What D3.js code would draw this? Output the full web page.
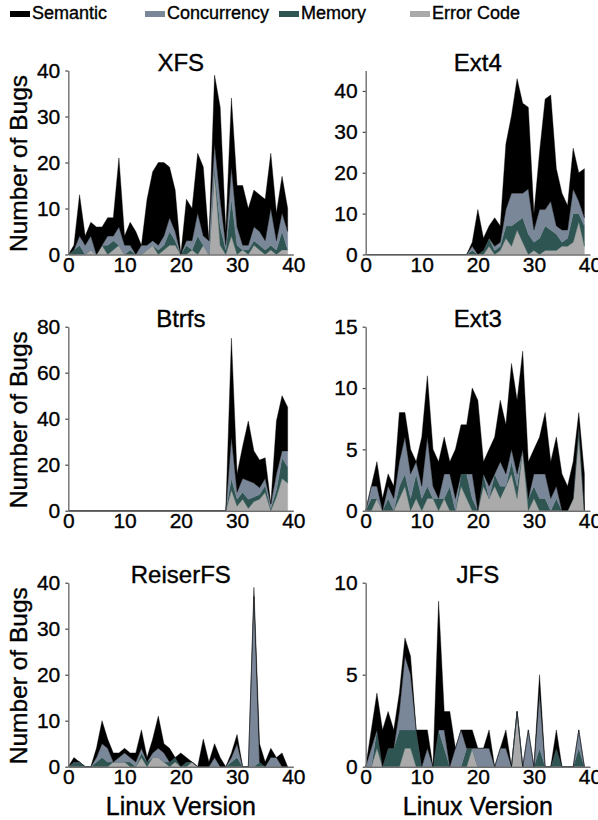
<!DOCTYPE html>
<html><head><meta charset="utf-8">
<script src="https://cdn.jsdelivr.net/npm/d3@7"></script>
<style>
html,body{margin:0;padding:0;background:#fff;}
svg{display:block;font-family:"Liberation Sans",Arial,Helvetica,sans-serif;}
</style></head>
<body>
<svg id="chart" width="598" height="820"></svg>
<script>
// ---- data ----
const versions = d3.range(0, 40);
const seriesNames = ["Semantic", "Concurrency", "Memory", "Error Code"];
const stackOrder = ["Error Code", "Memory", "Concurrency", "Semantic"];
const seriesColors = ["#000000", "#7a8799", "#2e5552", "#aaaaaa"];

const xfsError       = [0,0,0,0,1,0,2,0,1,2,0,0,0,0,1,2,0,1,2,2,0,0,1,0,2,0,18,2,0,4,0,1,0,2,1,0,1,0,1,1];
const xfsMemory      = [0,1,2,0,0,0,0,2,2,0,0,1,0,0,0,0,1,1,3,1,0,2,0,4,0,0,1,4,1,8,2,0,1,1,1,1,1,1,4,0];
const xfsConcurrency = [0,0,2,2,3,0,0,2,1,4,2,1,0,2,1,1,1,2,3,2,0,1,2,5,2,3,5,6,1,7,4,1,1,3,3,2,8,2,4,4];
const xfsSemantic    = [0,1,9,2,3,6,4,4,4,15,2,5,5,0,10,15,18,16,11,9,0,9,7,13,15,0,15,20,3,15,9,13,8,8,8,9,12,6,8,5];

const ext4Error       = [0,0,0,0,0,0,0,0,0,0,0,0,0,0,0,0,0,0,0,0,0,0,2,0,1,4,2,6,3,0,1,0,1,1,1,2,2,3,8,2];
const ext4Memory      = [0,0,0,0,0,0,0,0,0,0,0,0,0,0,0,0,0,0,0,1,0,1,2,1,1,3,5,2,6,5,2,4,6,5,4,1,2,7,2,5];
const ext4Concurrency = [0,0,0,0,0,0,0,0,0,0,0,0,0,0,0,0,0,0,0,1,0,0,0,1,1,4,8,7,6,11,3,7,4,7,2,3,2,6,3,2];
const ext4Semantic    = [0,0,0,0,0,0,0,0,0,0,0,0,0,0,0,0,0,0,0,1,11,3,3,7,4,16,19,28,22,20,4,14,27,26,14,9,6,10,7,12];

const btrfsError       = [0,0,0,0,0,0,0,0,0,0,0,0,0,0,0,0,0,0,0,0,0,0,0,0,0,0,0,0,0,9,2,5,1,4,5,8,0,6,14,12];
const btrfsMemory      = [0,0,0,0,0,0,0,0,0,0,0,0,0,0,0,0,0,0,0,0,0,0,0,0,0,0,0,0,0,5,3,3,4,2,2,3,1,3,9,7];
const btrfsConcurrency = [0,0,0,0,0,0,0,0,0,0,0,0,0,0,0,0,0,0,0,0,0,0,0,0,0,0,0,0,0,18,3,6,8,6,3,3,2,7,3,7];
const btrfsSemantic    = [0,0,0,0,0,0,0,0,0,0,0,0,0,0,0,0,0,0,0,0,0,0,0,0,0,0,0,0,0,43,8,14,26,14,12,9,0,23,24,19];

const ext3Error       = [0,0,1,0,0,0,1,2,0,1,0,1,1,0,1,0,0,2,1,0,0,2,1,2,1,2,3,1,5,0,1,0,0,0,0,0,0,1,6,0];
const ext3Memory      = [0,1,0,0,1,0,1,1,1,2,1,1,0,1,0,2,0,1,2,1,0,1,0,1,1,0,1,1,0,1,1,1,1,0,1,0,0,0,1,0];
const ext3Concurrency = [0,1,1,0,1,1,2,3,2,1,1,4,1,0,2,1,1,0,0,2,0,0,1,0,2,1,1,1,0,0,1,2,2,1,1,0,0,0,0,0];
const ext3Semantic    = [0,0,2,1,1,1,4,2,2,0,4,5,3,3,3,1,4,4,4,7,9,1,3,3,5,4,7,6,8,3,2,3,5,3,4,3,2,3,1,3];

const reiserError       = [0,0,0,0,0,0,0,0,1,1,1,0,0,2,0,2,2,1,0,1,0,0,1,0,0,0,0,0,0,0,0,0,0,0,0,0,0,0,0,0];
const reiserMemory      = [0,1,1,0,0,1,2,1,0,0,0,1,0,1,1,0,0,0,1,1,0,1,0,0,0,0,0,0,0,1,2,0,0,0,1,0,0,0,0,0];
const reiserConcurrency = [0,0,0,0,0,1,3,3,0,1,2,1,1,1,0,1,2,2,0,0,0,0,0,0,0,0,2,0,0,1,3,0,0,37,0,0,2,2,0,0];
const reiserSemantic    = [0,1,0,0,0,2,5,2,2,1,1,1,2,4,1,3,7,2,3,0,3,1,0,0,6,1,3,2,0,1,2,0,0,2,4,1,2,0,3,0];

const jfsError       = [0,0,1,0,0,0,0,1,1,0,0,0,0,0,0,0,0,0,0,1,0,0,0,0,0,0,0,3,0,0,0,0,0,0,0,0,0,0,0,0];
const jfsMemory      = [0,0,1,0,1,1,2,1,1,2,0,0,0,2,1,0,0,0,1,0,0,0,0,0,0,0,0,0,0,0,0,1,0,0,1,0,0,0,1,0];
const jfsConcurrency = [0,1,0,0,0,0,1,4,3,0,0,1,0,0,1,0,1,2,0,0,1,1,1,0,1,1,0,0,0,2,0,3,0,0,0,0,0,0,1,0];
const jfsSemantic    = [0,1,2,2,2,1,1,1,1,0,2,1,0,7,1,3,0,0,1,1,0,0,1,0,0,1,0,0,0,0,0,1,0,0,1,0,0,0,0,0];

const xTicks = [0, 10, 20, 30, 40];

const panels = [
  {title:"XFS", col:0, row:0, ymax:40, yticks:[0,10,20,30,40], s:[xfsSemantic,xfsConcurrency,xfsMemory,xfsError]},
  {title:"Ext4", col:1, row:0, ymax:45, yticks:[0,10,20,30,40], s:[ext4Semantic,ext4Concurrency,ext4Memory,ext4Error]},
  {title:"Btrfs", col:0, row:1, ymax:80, yticks:[0,20,40,60,80], s:[btrfsSemantic,btrfsConcurrency,btrfsMemory,btrfsError]},
  {title:"Ext3", col:1, row:1, ymax:15, yticks:[0,5,10,15], s:[ext3Semantic,ext3Concurrency,ext3Memory,ext3Error]},
  {title:"ReiserFS", col:0, row:2, ymax:40, yticks:[0,10,20,30,40], s:[reiserSemantic,reiserConcurrency,reiserMemory,reiserError]},
  {title:"JFS", col:1, row:2, ymax:10, yticks:[0,5,10], s:[jfsSemantic,jfsConcurrency,jfsMemory,jfsError]}
];

// ---- layout ----
const svg = d3.select("#chart");
const colX = [[68.3, 293.3], [365.7, 590]];
const rowBottom = [254.5, 510.7, 766.7];
const plotH = 184;
const color = d3.scaleOrdinal().domain(seriesNames).range(seriesColors);
const ink = el => el.attr("fill", "#000").attr("stroke", "#000").attr("stroke-width", 0.35);

// legend
const legendX = [10, 145, 279, 410];
const leg = svg.append("g");
seriesNames.forEach((n, i) => {
  leg.append("rect").attr("x", legendX[i]).attr("y", 11).attr("width", 20).attr("height", 6).attr("fill", color(n));
  ink(leg.append("text").attr("x", legendX[i] + 22).attr("y", 18.5).attr("font-size", 18).text(n));
});

panels.forEach(p => {
  const [x0, x1] = colX[p.col];
  const yb = rowBottom[p.row];
  const yt = yb - plotH;
  const x = d3.scaleLinear().domain([0, 40]).range([x0, x1]);
  const y = d3.scaleLinear().domain([0, p.ymax]).range([yb, yt]);

  const rows = versions.map((v, i) => {
    const o = {v};
    seriesNames.forEach((n, k) => o[n] = p.s[k][i]);
    return o;
  });
  const stacked = d3.stack().keys(stackOrder)(rows);
  const area = d3.area().x(d => x(d.data.v)).y0(d => y(d[0])).y1(d => y(d[1]));

  const g = svg.append("g");
  g.selectAll("path.layer").data(stacked).join("path")
    .attr("class", "layer")
    .attr("d", area)
    .attr("fill", d => color(d.key))
    .attr("stroke", d => color(d.key))
    .attr("stroke-width", 0.4);

  const ya = g.append("g").attr("transform", `translate(${x0},0)`)
    .call(d3.axisLeft(y).tickValues(p.yticks).tickSize(3).tickPadding(5).tickSizeOuter(0));
  const xa = g.append("g").attr("transform", `translate(0,${yb})`)
    .call(d3.axisBottom(x).tickValues(xTicks).tickSize(0).tickPadding(2.5).tickSizeOuter(0));
  [ya, xa].forEach(a => {
    a.select(".domain").attr("stroke", "#6e6e6e").attr("stroke-width", 1.4);
    a.selectAll(".tick line").attr("stroke", "#444").attr("stroke-width", 1.2);
    ink(a.selectAll("text").attr("font-size", 21)
      .attr("font-family", '"Liberation Sans",Arial,Helvetica,sans-serif'));
  });

  ink(g.append("text").attr("x", (x0 + x1) / 2).attr("y", yt).attr("text-anchor", "middle")
    .attr("font-size", 24).text(p.title));

  if (p.col === 0) {
    ink(g.append("text").attr("transform", `translate(27,${(yt + yb) / 2 + 1}) rotate(-90)`)
      .attr("text-anchor", "middle").attr("font-size", 24.5).text("Number of Bugs"));
  }
  if (p.row === 2) {
    ink(g.append("text").attr("x", (x0 + x1) / 2).attr("y", 815).attr("text-anchor", "middle")
      .attr("font-size", 25).text("Linux Version"));
  }
});
</script>
</body></html>
